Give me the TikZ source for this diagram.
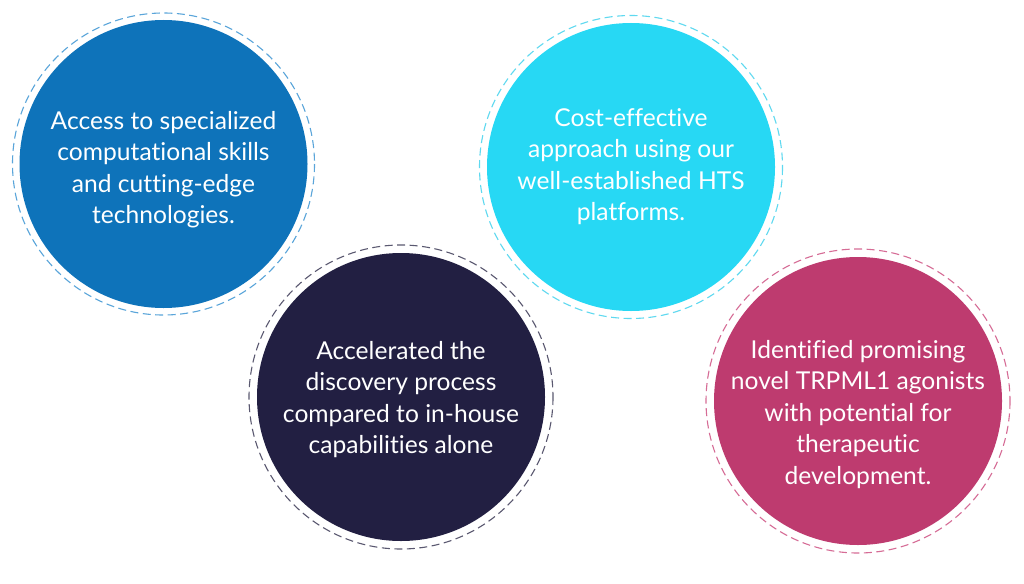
\documentclass[tikz,border=0pt]{standalone}
\usepackage{fontspec}
\setmainfont{Lato}[Ligatures={NoCommon}]
\definecolor{cblue}{HTML}{0E73BA}
\definecolor{cblueR}{HTML}{5AA5DA}
\definecolor{ccyan}{HTML}{27D8F4}
\definecolor{ccyanR}{HTML}{5FD9F0}
\definecolor{cnavy}{HTML}{221F42}
\definecolor{cnavyR}{HTML}{5A5870}
\definecolor{cmag}{HTML}{BE3B6F}
\definecolor{cmagR}{HTML}{D66C96}
\tikzset{
  x=1pt,y=-1pt,
  disc/.style={circle,minimum size=288pt,inner sep=0pt},
  ring/.style={dash pattern=on 8pt off 4.5pt,line width=1.1pt},
  lbl/.style={text=white,align=center,font=\fontsize{24.6}{31.5}\selectfont}
}
\begin{document}
\begin{tikzpicture}
\useasboundingbox[fill=white] (0,0) rectangle (1024,583);
% blue
\node[disc,fill=cblue] (c1) at (163.5,164) {};
\draw[ring,draw=cblueR] (c1.center) circle[radius=151];
\node[lbl] (t1) at (163.5,169.5) {Access to specialized\\computational skills\\and cutting-edge\\technologies.};
% cyan
\node[disc,fill=ccyan] (c2) at (631,167) {};
\draw[ring,draw=ccyanR] (c2.center) circle[radius=151.5];
\node[lbl] (t2) at (631,166.5) {Cost-effective\\approach using our\\well-established HTS\\platforms.};
% navy
\node[disc,fill=cnavy] (c3) at (401,397) {};
\draw[ring,draw=cnavyR] (c3.center) circle[radius=152];
\node[lbl] (t3) at (401,399.5) {Accelerated the\\discovery process\\compared to in-house\\capabilities alone};
% magenta
\node[disc,fill=cmag] (c4) at (858,401) {};
\draw[ring,draw=cmagR] (c4.center) circle[radius=152];
\node[lbl] (t4) at (858,414.5) {Identified promising\\novel TRPML1 agonists\\with potential for\\therapeutic\\development.};
\end{tikzpicture}
\end{document}
